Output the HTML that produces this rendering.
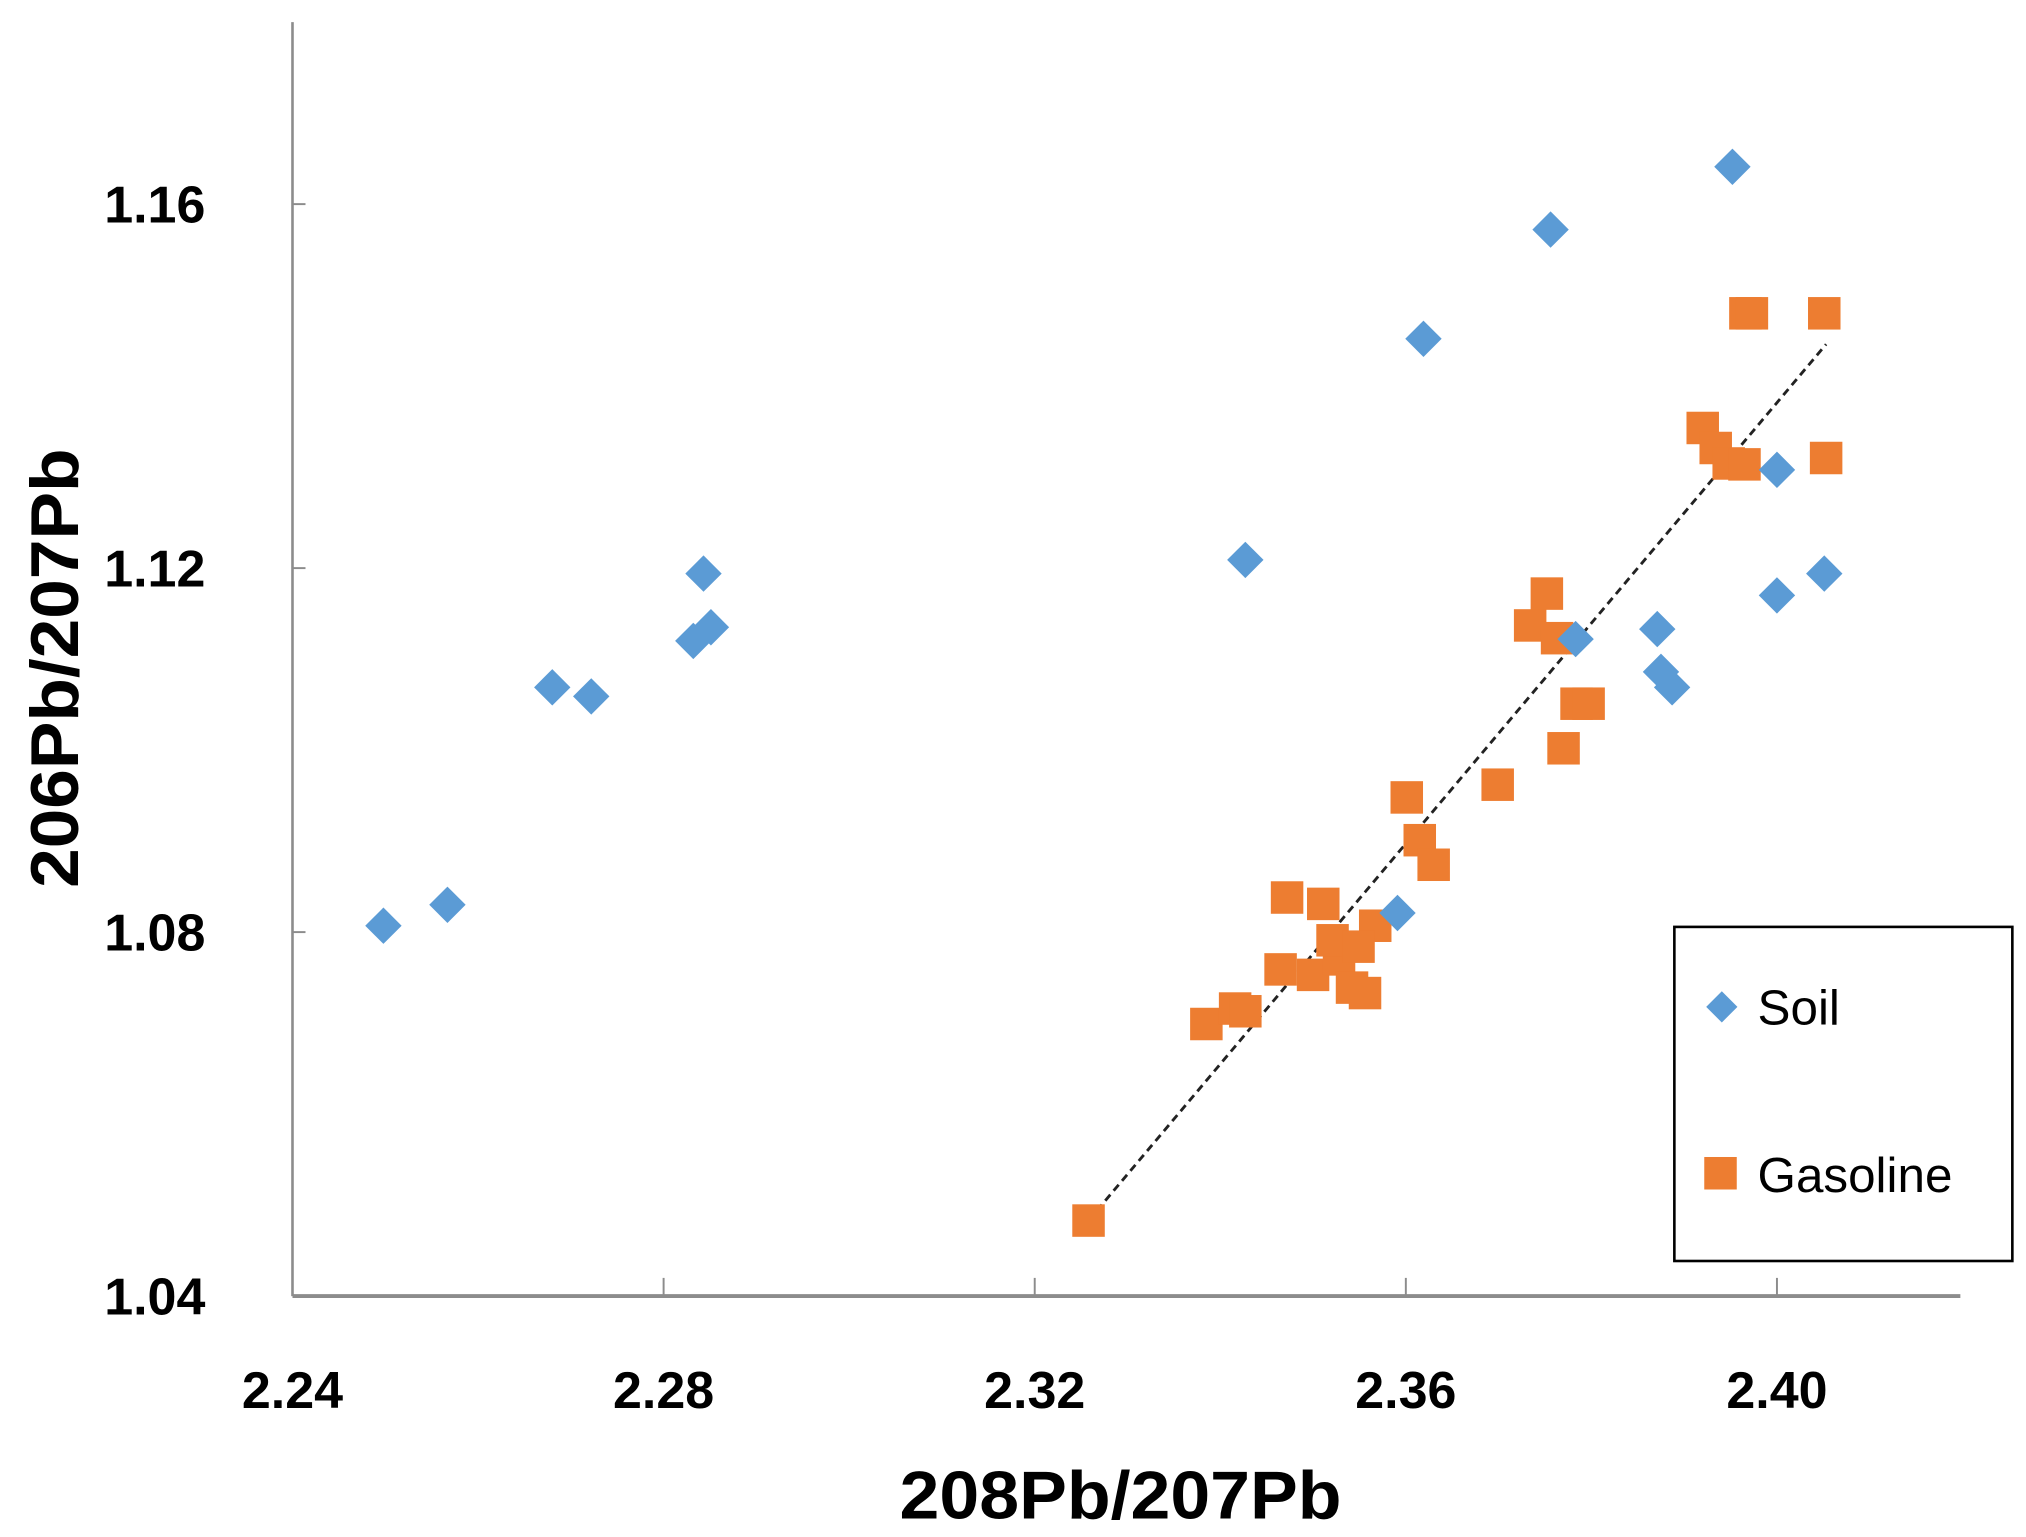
<!DOCTYPE html>
<html><head><meta charset="utf-8"><style>
html,body{margin:0;padding:0;background:#fff;}
svg{display:block;}
text{font-family:"Liberation Sans",sans-serif;fill:#000;}
</style></head><body>
<svg id="chart" width="2026" height="1537" viewBox="0 0 1558.5 1182.3" xmlns="http://www.w3.org/2000/svg">
<g id="axes"></g>
<g id="trend"></g>
<g id="marks"></g>
<g>
  <rect x="1288" y="713" width="260" height="257" fill="#fff" stroke="#000" stroke-width="2"/>
  <rect x="1316" y="766" width="17" height="17" fill="#5b9bd5" transform="rotate(45 1324.5 774.5)"/>
  <text x="1352" y="788" font-size="38">Soil</text>
  <rect x="1311" y="890" width="25" height="25" fill="#ed7d31"/>
  <text x="1352" y="917" font-size="38">Gasoline</text>
</g>
<text x="862" y="1168" font-size="52" font-weight="bold" text-anchor="middle" textLength="340" lengthAdjust="spacingAndGlyphs">208Pb/207Pb</text>
<text x="0" y="0" font-size="52" font-weight="bold" text-anchor="middle" textLength="338" lengthAdjust="spacingAndGlyphs" transform="translate(60 514) rotate(-90)">206Pb/207Pb</text>
</svg>
<script>
const xTicks = [2.24, 2.28, 2.32, 2.36, 2.40];
const xTickLabels = ["2.24", "2.28", "2.32", "2.36", "2.40"];
const yTicks = [1.04, 1.08, 1.12, 1.16];
const yTickLabels = ["1.04", "1.08", "1.12", "1.16"];
const soilX = [2.2498,2.2567,2.2680,2.2722,2.2843,2.2832,2.2851,2.3427,2.3619,2.3756,2.3952,2.4000,2.4000,2.4051,2.3871,2.3875,2.3887,2.3783,2.3591];
const soilY = [1.0807,1.0830,1.1069,1.1059,1.1194,1.1120,1.1135,1.1209,1.1452,1.1572,1.1641,1.1308,1.1170,1.1194,1.1133,1.1086,1.1069,1.1122,1.0821];
const gasX = [2.3258,2.3385,2.3416,2.3427,2.3472,2.3511,2.3465,2.3500,2.3528,2.3542,2.3556,2.3567,2.3521,2.3549,2.3601,2.3615,2.3630,2.3699,2.3734,2.3752,2.3763,2.3770,2.3784,2.3797,2.3920,2.3934,2.3948,2.3965,2.3966,2.3973,2.4051,2.4053];
const gasY = [1.0483,1.0699,1.0716,1.0713,1.0838,1.0831,1.0759,1.0753,1.0770,1.0739,1.0733,1.0807,1.0791,1.0784,1.0948,1.0901,1.0874,1.0962,1.1137,1.1172,1.1123,1.1002,1.1051,1.1051,1.1354,1.1332,1.1315,1.1314,1.1480,1.1480,1.1480,1.1321];
const trendX = [2.3258, 2.4053];
const trendY = [1.0483, 1.1446];

const NS = "http://www.w3.org/2000/svg";
function xs(v){ return 225 + (v - 2.24) * 7137; }
function ys(v){ return 157 + (1.16 - v) * 7000; }
function mk(tag, attrs, parent){
  const e = document.createElementNS(NS, tag);
  for (const k in attrs) e.setAttribute(k, attrs[k]);
  parent.appendChild(e);
  return e;
}
const axes = document.getElementById('axes');
const base = ys(1.04);
let l = mk('line', {x1:225, y1:17, x2:225, y2:base, stroke:'#8c8c8c', 'stroke-width':2}, axes);


l = mk('line', {x1:225, y1:base, x2:1508, y2:base, stroke:'#8c8c8c', 'stroke-width':3}, axes);


xTicks.forEach((v, i) => {
  const t = mk('line', {x1:xs(v), y1:base, x2:xs(v), y2:base-14, stroke:'#8c8c8c', 'stroke-width':1.5}, axes);
  
  
  const tx = mk('text', {x:xs(v), y:base+86, 'font-size':40, 'font-weight':'bold', 'text-anchor':'middle'}, axes);
  tx.textContent = xTickLabels[i];
  
  
});
yTicks.forEach((v, i) => {
  const t = mk('line', {x1:225, y1:ys(v), x2:235, y2:ys(v), stroke:'#8c8c8c', 'stroke-width':1.5}, axes);
  
  
  const tx = mk('text', {x:158, y:ys(v)+14, 'font-size':40, 'font-weight':'bold', 'text-anchor':'end'}, axes);
  tx.textContent = yTickLabels[i];
  
  
});
const marks = document.getElementById('marks');
gasX.forEach((v, i) => {
  const r = mk('rect', {x:xs(v)-12.5, y:ys(gasY[i])-12.5, width:25, height:25, fill:'#ed7d31'}, marks);
  
  
});
soilX.forEach((v, i) => {
  const cx = xs(v), cy = ys(soilY[i]);
  const p = mk('polygon', {points:`${cx},${cy-14} ${cx+14},${cy} ${cx},${cy+14} ${cx-14},${cy}`, fill:'#5b9bd5'}, marks);
  
  
});
const tl = mk('line', {x1:xs(trendX[0]), y1:ys(trendY[0]), x2:xs(trendX[1]), y2:ys(trendY[1]), stroke:'#222', 'stroke-width':2.2, 'stroke-dasharray':'6 4'}, document.getElementById('trend'));


</script>
</body></html>
